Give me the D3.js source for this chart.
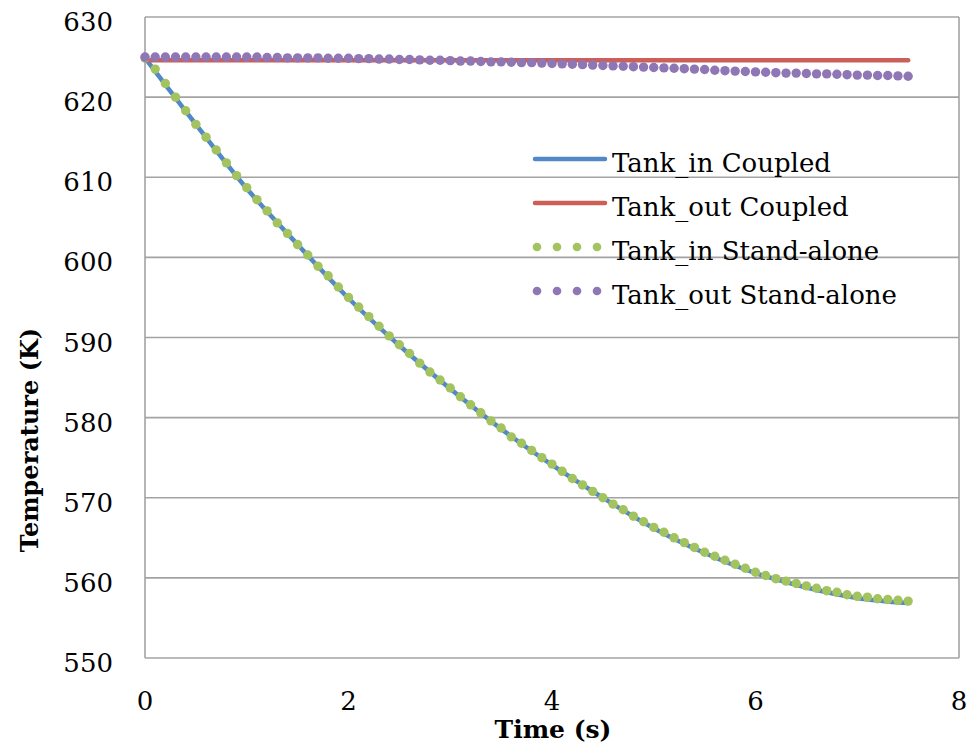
<!DOCTYPE html>
<html>
<head>
<meta charset="utf-8">
<script src="https://cdn.jsdelivr.net/npm/d3@7"></script>
<style>
  body { margin: 0; background: #fff; }
  text { font-family: "DejaVu Serif", serif; fill: #000; }
</style>
</head>
<body>
<div id="chart"></div>
<script>
/* Tank temperatures, coupled vs stand-alone */

// time axis of the coupled runs (s)
const timeCoupled = [0, 0.5, 1, 1.5, 2, 2.5, 3, 3.5, 4, 4.5, 5, 5.5, 6, 6.5, 7, 7.5];
const tankInCoupled = [624.9, 616.6, 608.6, 601.6, 594.9, 589.0, 583.6, 578.6, 574.1, 570.0, 566.2, 563.1, 560.6, 558.8, 557.5, 556.85];
const tankOutCoupled = [624.6, 624.6, 624.6, 624.6, 624.6, 624.6, 624.6, 624.6, 624.6, 624.6, 624.6, 624.6, 624.6, 624.6, 624.6, 624.6];

// time axis of the stand-alone runs (s)
const timeStandAlone = [
  0.0, 0.1, 0.2, 0.3, 0.4, 0.5, 0.6, 0.7, 0.8, 0.9,
  1.0, 1.1, 1.2, 1.3, 1.4, 1.5, 1.6, 1.7, 1.8, 1.9,
  2.0, 2.1, 2.2, 2.3, 2.4, 2.5, 2.6, 2.7, 2.8, 2.9,
  3.0, 3.1, 3.2, 3.3, 3.4, 3.5, 3.6, 3.7, 3.8, 3.9,
  4.0, 4.1, 4.2, 4.3, 4.4, 4.5, 4.6, 4.7, 4.8, 4.9,
  5.0, 5.1, 5.2, 5.3, 5.4, 5.5, 5.6, 5.7, 5.8, 5.9,
  6.0, 6.1, 6.2, 6.3, 6.4, 6.5, 6.6, 6.7, 6.8, 6.9,
  7.0, 7.1, 7.2, 7.3, 7.4, 7.5];
const tankInStandAlone = [
  624.9, 623.5, 621.7, 620.0, 618.3, 616.6, 615.0, 613.4, 611.8, 610.2,
  608.7, 607.2, 605.8, 604.3, 603.0, 601.6, 600.3, 598.9, 597.7, 596.3,
  595.0, 593.8, 592.6, 591.4, 590.2, 589.1, 588.0, 586.8, 585.7, 584.7,
  583.7, 582.6, 581.6, 580.6, 579.6, 578.7, 577.6, 576.8, 575.9, 575.0,
  574.2, 573.3, 572.4, 571.6, 570.8, 570.0, 569.2, 568.5, 567.7, 567.0,
  566.3, 565.7, 565.0, 564.4, 563.8, 563.2, 562.7, 562.2, 561.7, 561.2,
  560.7, 560.3, 559.9, 559.6, 559.3, 559.0, 558.7, 558.4, 558.2, 557.9,
  557.7, 557.6, 557.4, 557.3, 557.2, 557.1];
const tankOutStandAlone = [
  625.0, 625.0, 625.0, 625.0, 625.0, 625.0, 625.0, 625.0, 625.0, 625.0,
  625.0, 625.0, 624.95, 624.95, 624.9, 624.9, 624.9, 624.9, 624.85, 624.85,
  624.85, 624.8, 624.8, 624.75, 624.75, 624.7, 624.7, 624.65, 624.6, 624.6,
  624.55, 624.5, 624.5, 624.45, 624.4, 624.4, 624.35, 624.3, 624.3, 624.25,
  624.2, 624.15, 624.1, 624.05, 624.0, 623.95, 623.9, 623.85, 623.8, 623.75,
  623.7, 623.65, 623.6, 623.55, 623.5, 623.45, 623.35, 623.3, 623.25, 623.2,
  623.15, 623.1, 623.05, 623.0, 623.0, 622.95, 622.9, 622.9, 622.85, 622.8,
  622.75, 622.75, 622.7, 622.7, 622.65, 622.6];

const xTicks = [0, 2, 4, 6, 8];
const yTicks = [550, 560, 570, 580, 590, 600, 610, 620, 630];

const seriesNames = ["Tank_in Coupled", "Tank_out Coupled", "Tank_in Stand-alone", "Tank_out Stand-alone"];
const seriesColors = ["#5287c8", "#cc5f58", "#a3c35f", "#8f76b5"];

const width = 969,
    height = 744,
    margin = ({ top: 17, right: 10, bottom: 86, left: 145 });

const svg = d3.select("#chart")
    .append("svg")
    .attr("width", width)
    .attr("height", height)
    .attr("viewBox", [0, 0, width, height]);

let x = d3.scaleLinear()
    .domain([0, 8])
    .range([margin.left, width - margin.right]);

let y = d3.scaleLinear()
    .domain([550, 630])
    .range([height - margin.bottom, margin.top]);

const gridColor = "#a3a3a3";

// horizontal gridlines
svg.append("g")
  .selectAll("line")
  .data(yTicks)
  .join("line")
    .attr("x1", margin.left)
    .attr("x2", width - margin.right)
    .attr("y1", d => y(d))
    .attr("y2", d => y(d))
    .attr("stroke", gridColor)
    .attr("stroke-width", 1.6);

// left and right frame
svg.append("line")
    .attr("x1", x(0)).attr("x2", x(0))
    .attr("y1", y(630)).attr("y2", y(550))
    .attr("stroke", gridColor).attr("stroke-width", 1.6);
svg.append("line")
    .attr("x1", x(8)).attr("x2", x(8))
    .attr("y1", y(630)).attr("y2", y(550))
    .attr("stroke", gridColor).attr("stroke-width", 1.6);

// y tick labels
svg.append("g")
  .selectAll("text")
  .data(yTicks)
  .join("text")
    .attr("x", 113)
    .attr("y", d => y(d) + 14)
    .attr("text-anchor", "end")
    .attr("font-size", 26)
    .text(d => d);

// x tick labels
svg.append("g")
  .selectAll("text")
  .data(xTicks)
  .join("text")
    .attr("x", d => x(d))
    .attr("y", 710)
    .attr("text-anchor", "middle")
    .attr("font-size", 26)
    .text(d => d);

// axis titles
svg.append("text")
    .attr("x", (x(0) + x(8)) / 2 + 1)
    .attr("y", 738)
    .attr("text-anchor", "middle")
    .attr("font-size", 25)
    .attr("font-weight", "bold")
    .text("Time (s)");

svg.append("text")
    .attr("transform", "translate(38,440) rotate(-90)")
    .attr("text-anchor", "middle")
    .attr("font-size", 24)
    .attr("font-weight", "bold")
    .text("Temperature (K)");

// coupled lines
let line = d3.line()
    .x(d => x(d[0]))
    .y(d => y(d[1]))
    .curve(d3.curveMonotoneX);

svg.append("path")
    .datum(d3.zip(timeCoupled, tankInCoupled))
    .attr("d", line)
    .attr("fill", "none")
    .attr("stroke", seriesColors[0])
    .attr("stroke-width", 4.5)
    .attr("stroke-linecap", "round");

svg.append("path")
    .datum(d3.zip(timeCoupled, tankOutCoupled))
    .attr("d", line)
    .attr("fill", "none")
    .attr("stroke", seriesColors[1])
    .attr("stroke-width", 4.5)
    .attr("stroke-linecap", "round");

// stand-alone dots
svg.append("g")
  .selectAll("circle")
  .data(d3.zip(timeStandAlone, tankInStandAlone))
  .join("circle")
    .attr("cx", d => x(d[0]))
    .attr("cy", d => y(d[1]))
    .attr("r", 4.7)
    .attr("fill", seriesColors[2]);

svg.append("g")
  .selectAll("circle")
  .data(d3.zip(timeStandAlone, tankOutStandAlone))
  .join("circle")
    .attr("cx", d => x(d[0]))
    .attr("cy", d => y(d[1]))
    .attr("r", 4.7)
    .attr("fill", seriesColors[3]);

// legend
const legendRows = [159, 203, 247, 291];
const legend = svg.append("g");

seriesNames.forEach((name, i) => {
  const ly = legendRows[i];
  if (i < 2) {
    legend.append("line")
      .attr("x1", 535).attr("x2", 605)
      .attr("y1", ly).attr("y2", ly)
      .attr("stroke", seriesColors[i])
      .attr("stroke-width", 4.5)
      .attr("stroke-linecap", "round");
  } else {
    legend.selectAll(null)
      .data([537, 557, 577, 597])
      .join("circle")
        .attr("cx", d => d)
        .attr("cy", ly)
        .attr("r", 4.3)
        .attr("fill", seriesColors[i]);
  }
  legend.append("text")
    .attr("x", 612)
    .attr("y", ly + 12.5)
    .attr("font-size", 26)
    .text(name);
});
</script>
</body>
</html>
